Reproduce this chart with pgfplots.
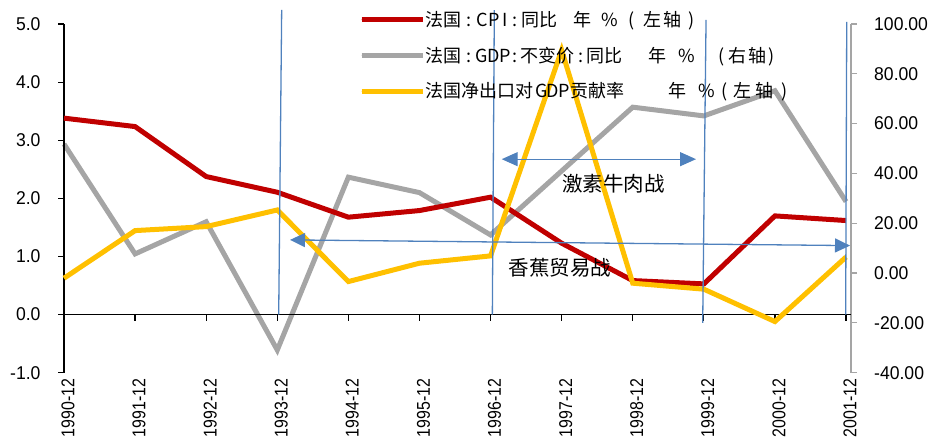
\documentclass[border=0pt]{standalone}
\usepackage{pgfplots}
\pgfplotsset{compat=1.18}
\usetikzlibrary{arrows.meta}
\usepackage{fontspec}
\setmainfont{Liberation Sans}
\newfontfamily\cjk{Noto Sans CJK SC}
\newfontfamily\ynum[FakeStretch=0.95]{Liberation Sans}
\newfontfamily\xnum[FakeStretch=0.86]{Liberation Sans}

\definecolor{cpired}{HTML}{C00000}
\definecolor{gdpgray}{HTML}{A5A5A5}
\definecolor{nxyellow}{HTML}{FFC000}
\definecolor{noteblue}{HTML}{4F81BD}

% put a piece of legend text at a fixed offset from the start of the entry
\newcommand{\pc}[2]{\rlap{\hspace*{#1pt}#2}}

\begin{document}
\begin{tikzpicture}
\useasboundingbox (0,0) rectangle (936pt,443pt);

% ---------------- right axis: real GDP growth ----------------
\begin{axis}[
  at={(64pt,70.3pt)}, anchor=south west,
  scale only axis, width=787pt, height=348.7pt,
  xmin=0, xmax=11.07, ymin=-40, ymax=100,
  axis x line=none,
  axis y line*=right,
  y axis line style={gdpgray, line width=1.5pt},
  ytick={-40,-20,...,100},
  ytick style={gdpgray, line width=1.2pt},
  tick align=outside, major tick length=6pt,
  yticklabel style={font=\ynum\fontsize{18.5}{18.5}\selectfont, anchor=west, inner sep=0pt, xshift=17pt,
    /pgf/number format/fixed, /pgf/number format/fixed zerofill,
    /pgf/number format/precision=2},
  /pgf/number format/assume math mode=true,
  clip=false,
]
\addplot[gdpgray, line width=5pt] coordinates {
  (0,51.8) (1,7.7) (2,20.6) (3,-30.9) (4,38.5) (5,32.3)
  (6,15.3) (7,41.0) (8,66.6) (9,63.1) (10,73.2) (11,28.7)
};
\end{axis}

% ---------------- left axis: CPI and net exports ----------------
\begin{axis}[
  at={(64pt,70.3pt)}, anchor=south west,
  scale only axis, width=787pt, height=348.7pt,
  xmin=0, xmax=11.07, ymin=-1, ymax=5,
  axis y line*=left, axis x line*=bottom,
  x axis line style={draw=none},
  y axis line style={black, line width=1.5pt},
  xtick={0,...,11},
  xticklabels={1990-12,1991-12,1992-12,1993-12,1994-12,1995-12,1996-12,1997-12,1998-12,1999-12,2000-12,2001-12},
  xtick style={draw=none},
  xticklabel style={font=\xnum\fontsize{18.5}{18.5}\selectfont, rotate=90, anchor=east, inner sep=0pt, yshift=-4pt},
  ytick={-1,0,...,5},
  yticklabels={},
  ytick style={black, line width=1.2pt},
  tick align=outside, major tick length=6pt,
  clip=false,
  legend image code/.code={
    \path (0pt,0pt) -- (61pt,0pt);
    \draw[#1, line cap=round] (2.5pt,0pt) -- (51.5pt,0pt);
  },
  legend cell align=left,
  legend style={draw=none, fill=none, inner sep=0pt, row sep=19pt, column sep=0pt,
    at={(axis description cs:0.3748,1.0373)}, anchor=north west,
    font=\cjk\fontsize{18}{18}\selectfont, nodes={inner sep=0pt}},
]
% left scale numbers
\pgfplotsinvokeforeach{-1,0,...,5}{
  \node[anchor=east, inner sep=0pt, xshift=-23.3pt, font=\ynum\fontsize{18.5}{18.5}\selectfont]
    at (axis cs:0,#1) {\pgfmathprintnumber[fixed, fixed zerofill, precision=1, assume math mode=true]{#1}};
}
% zero line with category ticks
\draw[black, line width=1.6pt] (axis cs:0,0) -- (axis cs:11.07,0);
\pgfplotsinvokeforeach{0,...,11}{
  \draw[black, line width=1.2pt] (axis cs:#1,0) -- ++(0pt,-6pt);
}

\addplot[cpired, line width=5pt] coordinates {
  (0,3.380) (1,3.235) (2,2.375) (3,2.105) (4,1.676) (5,1.790)
  (6,2.020) (7,1.228) (8,0.585) (9,0.528) (10,1.698) (11,1.618)
};
\addlegendentry{\makebox[370pt][l]{\pc{0}{法国}\pc{41.7}{:}\pc{51.7}{C}\pc{63}{P}\pc{77}{I}\pc{87}{:}\pc{96.7}{同比}\pc{148.3}{年}\pc{176.7}{\%}\pc{203}{(}\pc{218.3}{左}\pc{238.3}{轴}\pc{263.3}{)}}}
\addlegendimage{gdpgray, line width=5pt}
\addlegendentry{\makebox[370pt][l]{\pc{0}{法国}\pc{41.7}{:}\pc{50}{G}\pc{62}{D}\pc{74}{P}\pc{87}{:}\pc{95}{不变价}\pc{153}{:}\pc{161.7}{同比}\pc{223.3}{年}\pc{253.3}{\%}\pc{293}{(}\pc{303}{右}\pc{323}{轴}\pc{343}{)}}}
\addplot[nxyellow, line width=5pt] coordinates {
  (0,0.626) (1,1.445) (2,1.514) (3,1.800) (4,0.568) (5,0.884)
  (6,1.010) (7,4.550) (8,0.540) (9,0.437) (10,-0.120) (11,0.990)
};
\addlegendentry{\makebox[370pt][l]{\pc{0}{法国净出口对}\pc{110}{G}\pc{121}{D}\pc{133}{P}\pc{145}{贡献率}\pc{243.3}{年}\pc{273.3}{\%}\pc{296.7}{(}\pc{308}{左}\pc{330}{轴}\pc{356.7}{)}}}

% period markers
\draw[noteblue, line width=1.3pt] (axis cs:3.062,5.243) -- (axis cs:3.020,0);
\draw[noteblue, line width=1.3pt] (axis cs:6.053,5.240) -- (axis cs:6.025,0);
\draw[noteblue, line width=1.3pt] (axis cs:9.031,5.070) -- (axis cs:8.984,-0.143);
\draw[noteblue, line width=1.3pt] (axis cs:11.010,5.036) -- (axis cs:10.995,0);

% trade disputes
\draw[noteblue, line width=1.3pt, {Triangle[length=16pt,width=14pt]}-{Triangle[length=16pt,width=14pt]}]
  (axis cs:6.157,2.674) -- (axis cs:8.890,2.674);
\draw[noteblue, line width=1.3pt, {Triangle[length=15pt,width=14pt]}-{Triangle[length=15pt,width=14pt]}]
  (axis cs:3.179,1.285) -- (axis cs:11.056,1.187);
\node[font=\cjk\fontsize{20.5}{20.5}\selectfont] at (axis cs:7.73,2.249) {激素牛肉战};
\node[font=\cjk\fontsize{20.5}{20.5}\selectfont] at (axis cs:6.977,0.803) {香蕉贸易战};
\end{axis}
\end{tikzpicture}
\end{document}
